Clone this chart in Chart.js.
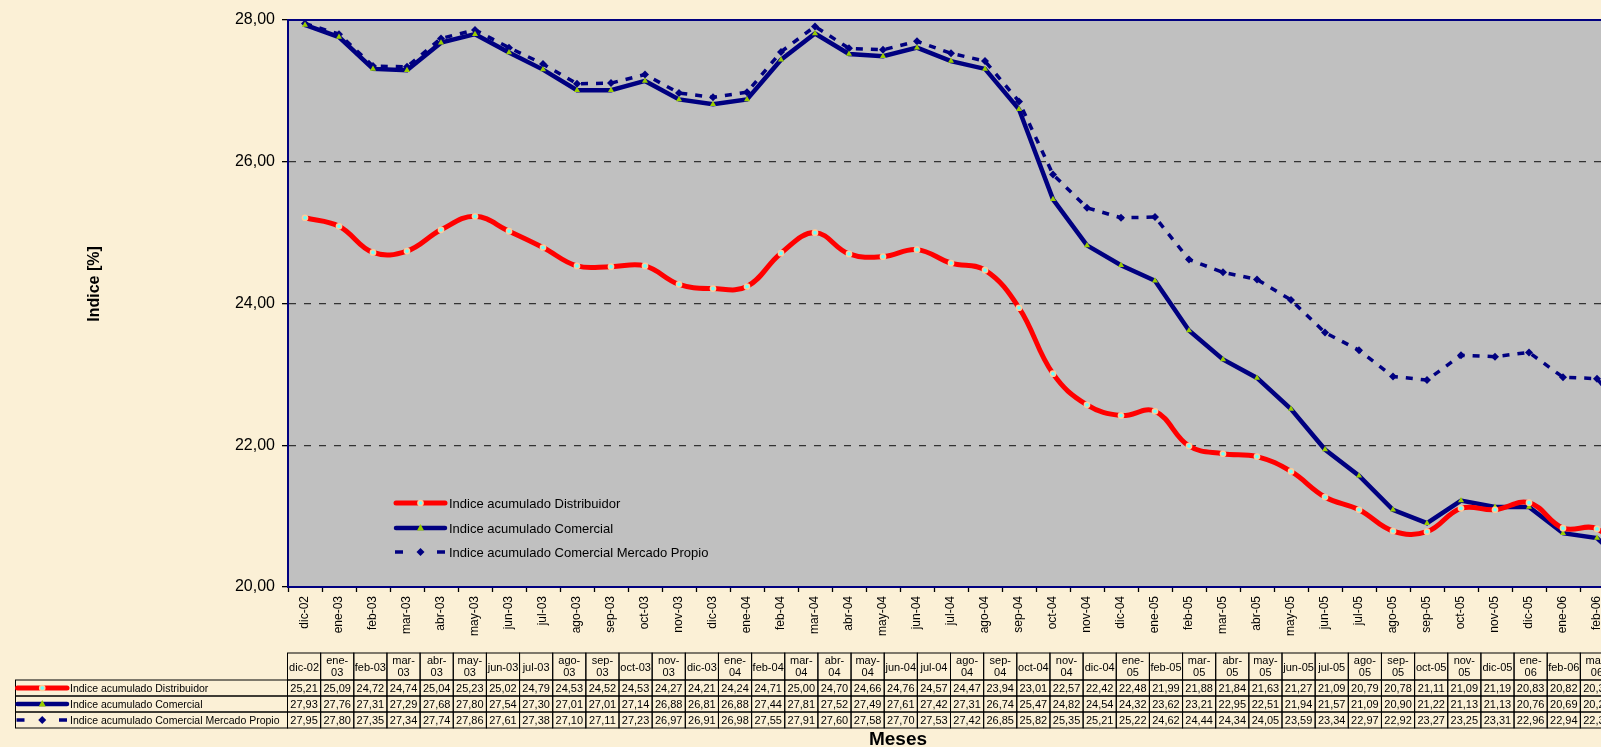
<!DOCTYPE html>
<html>
<head>
<meta charset="utf-8">
<script src="https://cdn.jsdelivr.net/npm/chart.js@4.4.1/dist/chart.umd.min.js"></script>
<style>
  html, body { margin: 0; padding: 0; overflow: hidden; background: #fbf0d6; }
  #wrap { width: 1660px; height: 747px; }
</style>
</head>
<body>
<div id="wrap"><canvas id="chart" width="1660" height="747"></canvas></div>
<script>
// months (categories)
const meses = ['dic-02', 'ene-03', 'feb-03', 'mar-03', 'abr-03', 'may-03', 'jun-03', 'jul-03', 'ago-03', 'sep-03',
  'oct-03', 'nov-03', 'dic-03', 'ene-04', 'feb-04', 'mar-04', 'abr-04', 'may-04', 'jun-04', 'jul-04',
  'ago-04', 'sep-04', 'oct-04', 'nov-04', 'dic-04', 'ene-05', 'feb-05', 'mar-05', 'abr-05', 'may-05',
  'jun-05', 'jul-05', 'ago-05', 'sep-05', 'oct-05', 'nov-05', 'dic-05', 'ene-06', 'feb-06', 'mar-06'];

const distribuidor = [25.21, 25.09, 24.72, 24.74, 25.04, 25.23, 25.02, 24.79, 24.53, 24.52,
  24.53, 24.27, 24.21, 24.24, 24.71, 25.00, 24.70, 24.66, 24.76, 24.57,
  24.47, 23.94, 23.01, 22.57, 22.42, 22.48, 21.99, 21.88, 21.84, 21.63,
  21.27, 21.09, 20.79, 20.78, 21.11, 21.09, 21.19, 20.83, 20.82, 20.35];

const comercial = [27.93, 27.76, 27.31, 27.29, 27.68, 27.80, 27.54, 27.30, 27.01, 27.01,
  27.14, 26.88, 26.81, 26.88, 27.44, 27.81, 27.52, 27.49, 27.61, 27.42,
  27.31, 26.74, 25.47, 24.82, 24.54, 24.32, 23.62, 23.21, 22.95, 22.51,
  21.94, 21.57, 21.09, 20.90, 21.22, 21.13, 21.13, 20.76, 20.69, 20.25];

const mercadoPropio = [27.95, 27.80, 27.35, 27.34, 27.74, 27.86, 27.61, 27.38, 27.10, 27.11,
  27.23, 26.97, 26.91, 26.98, 27.55, 27.91, 27.60, 27.58, 27.70, 27.53,
  27.42, 26.85, 25.82, 25.35, 25.21, 25.22, 24.62, 24.44, 24.34, 24.05,
  23.59, 23.34, 22.97, 22.92, 23.27, 23.25, 23.31, 22.96, 22.94, 22.35];

const nombres = ['Indice acumulado Distribuidor', 'Indice acumulado Comercial', 'Indice acumulado Comercial Mercado Propio'];
const yMin = 20, yMax = 28, yStep = 2;

const FONT = "'Liberation Sans', Arial, sans-serif";
const NAVY = '#000080';
const fmt = v => v.toFixed(2).replace('.', ',');

// small marker shapes, same as in the plot
function marker(ctx, kind, x, y) {
  ctx.save();
  ctx.setLineDash([]);
  ctx.beginPath();
  if (kind === 0) {
    ctx.arc(x, y, 2.6, 0, Math.PI * 2);
    ctx.fillStyle = '#66ffff';
    ctx.fill();
    ctx.lineWidth = 1.5;
    ctx.strokeStyle = '#ffcc99';
    ctx.stroke();
  } else if (kind === 1) {
    ctx.moveTo(x, y - 4);
    ctx.lineTo(x + 3.5, y + 2.5);
    ctx.lineTo(x - 3.5, y + 2.5);
    ctx.closePath();
    ctx.fillStyle = '#99cc00';
    ctx.fill();
  } else {
    ctx.moveTo(x, y - 4);
    ctx.lineTo(x + 4, y);
    ctx.lineTo(x, y + 4);
    ctx.lineTo(x - 4, y);
    ctx.closePath();
    ctx.fillStyle = NAVY;
    ctx.fill();
  }
  ctx.restore();
}

function keySample(ctx, kind, x0, x1, y) {
  ctx.save();
  ctx.lineCap = 'round';
  if (kind === 2) {
    ctx.strokeStyle = NAVY;
    ctx.lineWidth = 3.5;
    ctx.lineCap = 'butt';
    ctx.beginPath();
    ctx.moveTo(x0 + 1, y); ctx.lineTo(x0 + 9, y);
    ctx.moveTo(x1 - 10, y); ctx.lineTo(x1 - 2, y);
    ctx.stroke();
  } else {
    ctx.strokeStyle = kind === 0 ? '#ff0000' : NAVY;
    ctx.lineWidth = kind === 0 ? 5 : 4.5;
    ctx.beginPath();
    ctx.moveTo(x0 + 2, y); ctx.lineTo(x1 - 2, y);
    ctx.stroke();
  }
  ctx.restore();
  marker(ctx, kind, (x0 + x1) / 2, y);
}

function drawTable(ctx) {
  const colW = 33.15, tabX = 287.5, keyX = 15.5;
  const top = 653, headH = 27, rowH = 16;
  const series = [distribuidor, comercial, mercadoPropio];
  ctx.save();
  ctx.strokeStyle = '#000';
  ctx.lineWidth = 1;
  ctx.fillStyle = '#000';
  ctx.textAlign = 'center';
  ctx.textBaseline = 'middle';
  ctx.font = '11px ' + FONT;
  meses.forEach((m, i) => {
    const x = tabX + i * colW, cx = x + colW / 2;
    ctx.strokeRect(x, top, colW, headH);
    if (ctx.measureText(m).width > colW - 1.65) {
      const k = m.indexOf('-') + 1;
      ctx.fillText(m.slice(0, k), cx, top + 8);
      ctx.fillText(m.slice(k), cx, top + 20);
    } else {
      ctx.fillText(m, cx, top + headH / 2 + 1);
    }
    series.forEach((s, r) => {
      const y = top + headH + r * rowH;
      ctx.strokeRect(x, y, colW, rowH);
      ctx.fillText(fmt(s[i]), cx, y + rowH / 2 + 1);
    });
  });
  // key column
  ctx.textAlign = 'left';
  ctx.font = '10.5px ' + FONT;
  nombres.forEach((n, r) => {
    const y = top + headH + r * rowH;
    ctx.strokeRect(keyX, y, tabX - keyX, rowH);
    keySample(ctx, r, keyX, 69, y + rowH / 2);
    ctx.fillStyle = '#000';
    ctx.fillText(n, 70, y + rowH / 2 + 1);
  });
  ctx.restore();
}

const fondo = {
  id: 'fondo',
  beforeDraw(chart) {
    const {ctx, chartArea: a} = chart;
    ctx.save();
    ctx.fillStyle = '#fbf0d6';
    ctx.fillRect(0, 0, chart.width, chart.height);
    ctx.fillStyle = '#c0c0c0';
    ctx.fillRect(a.left, a.top, a.right - a.left, a.bottom - a.top);
    ctx.restore();
  },
  afterDraw(chart) {
    const {ctx, chartArea: a} = chart;
    ctx.save();
    // top and right border of the plot
    ctx.strokeStyle = NAVY;
    ctx.lineWidth = 2;
    ctx.beginPath();
    ctx.moveTo(a.left, a.top); ctx.lineTo(a.right, a.top); ctx.lineTo(a.right, a.bottom);
    ctx.stroke();

    // legend inside the plot
    ctx.font = '13px ' + FONT;
    ctx.textBaseline = 'middle';
    ctx.textAlign = 'left';
    [503, 528, 552].forEach((y, i) => {
      keySample(ctx, i, 394, 447, y);
      ctx.fillStyle = '#000';
      ctx.fillText(nombres[i], 449, y + 1);
    });

    // axis titles
    ctx.font = 'bold 16px ' + FONT;
    ctx.textAlign = 'center';
    ctx.save();
    ctx.translate(95, 284);
    ctx.rotate(-Math.PI / 2);
    ctx.fillText('Indice [%]', 0, 0);
    ctx.restore();
    ctx.font = 'bold 19px ' + FONT;
    ctx.fillText('Meses', 898, 740);
    ctx.restore();

    drawTable(ctx);
  }
};

Chart.defaults.font.family = FONT;

new Chart(document.getElementById('chart'), {
  type: 'line',
  data: {
    labels: meses,
    datasets: [
      {
        label: nombres[0],
        data: distribuidor,
        borderColor: '#ff0000',
        borderWidth: 5,
        tension: 0.4,
        pointStyle: 'circle',
        pointRadius: 2.6,
        pointBackgroundColor: '#66ffff',
        pointBorderColor: '#ffcc99',
        pointBorderWidth: 1.5
      },
      {
        label: nombres[1],
        data: comercial,
        borderColor: NAVY,
        borderWidth: 4.5,
        tension: 0,
        pointStyle: 'triangle',
        pointRadius: 3.5,
        pointBackgroundColor: '#99cc00',
        pointBorderColor: '#99cc00',
        pointBorderWidth: 0
      },
      {
        label: nombres[2],
        data: mercadoPropio,
        borderColor: NAVY,
        borderWidth: 3.5,
        borderDash: [7, 8],
        tension: 0,
        pointStyle: 'rectRot',
        pointRadius: 4,
        pointBackgroundColor: NAVY,
        pointBorderColor: NAVY,
        pointBorderWidth: 0
      }
    ]
  },
  options: {
    responsive: false,
    animation: false,
    devicePixelRatio: 1,
    layout: {
      padding: { top: 20, left: 0, right: 12, bottom: 0 }
    },
    plugins: {
      legend: { display: false },
      tooltip: { enabled: false },
      title: { display: false }
    },
    scales: {
      x: {
        offset: true,
        ticks: {
          autoSkip: false,
          minRotation: 90,
          maxRotation: 90,
          color: '#000',
          padding: 4,
          font: { size: 12 }
        },
        grid: {
          offset: true,
          drawOnChartArea: false,
          tickLength: 5,
          tickColor: '#000',
          tickWidth: 1.3
        },
        border: { color: NAVY, width: 2 },
        afterFit(scale) { scale.height = 160; }
      },
      y: {
        min: yMin,
        max: yMax,
        ticks: {
          stepSize: yStep,
          color: '#000',
          padding: 7,
          font: { size: 16 },
          callback: v => fmt(v)
        },
        grid: {
          color: ctx => (ctx.tick && (ctx.tick.value === yMin || ctx.tick.value === yMax)) ? 'rgba(0,0,0,0)' : '#333333',
          lineWidth: 1.3,
          tickLength: 6,
          tickColor: '#000',
          tickWidth: 1.3,
          tickBorderDash: []
        },
        border: { color: NAVY, width: 2, dash: [7, 8] },
        afterFit(scale) { scale.width = 288; }
      }
    }
  },
  plugins: [fondo]
});
</script>
</body>
</html>
